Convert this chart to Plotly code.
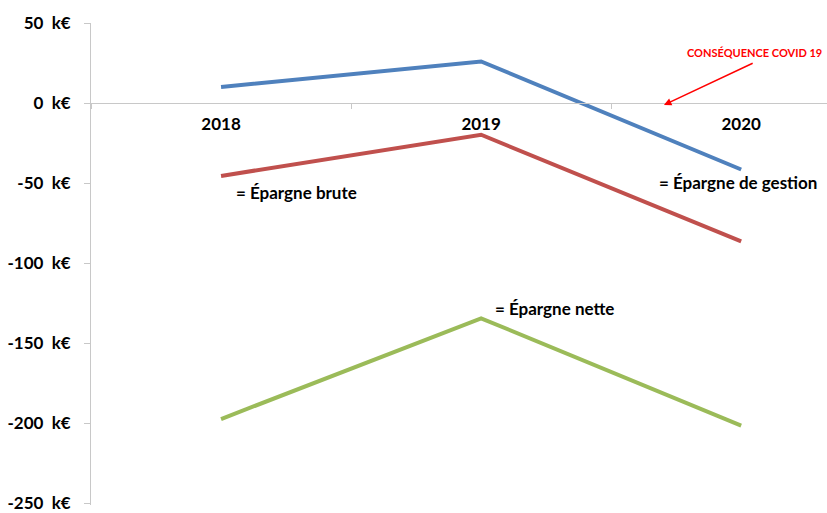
import plotly.graph_objects as go

years = ["2018", "2019", "2020"]
epargne_gestion = [10, 26, -41.5]
epargne_brute = [-45.5, -19.8, -86.4]
epargne_nette = [-197.3, -134.4, -201.4]

y_ticks = [50, 0, -50, -100, -150, -200, -250]
y_labels = [f"{v}\u00a0\u00a0k€" for v in y_ticks]

FONT = "Lato"

fig = go.Figure()
for vals, col in [(epargne_gestion, "#4f81bd"), (epargne_brute, "#c0504d"), (epargne_nette, "#9bbb59")]:
    fig.add_trace(go.Scatter(x=years, y=vals, mode="lines",
                             line=dict(color=col, width=4), showlegend=False,
                             hoverinfo="skip"))

fig.update_layout(
    width=827, height=513,
    margin=dict(l=91, r=0, t=23, b=4),
    paper_bgcolor="white", plot_bgcolor="white",
    font=dict(family=FONT, color="#000000"),
    xaxis=dict(type="category", range=[-0.5, 2.33], anchor="free",
               position=251/301, showline=True, linecolor="#c8c8c8", linewidth=1,
               ticks="outside", tickson="boundaries", ticklen=5, tickcolor="#c8c8c8",
               showgrid=False, zeroline=False,
               tickfont=dict(family=FONT, size=17, color="#000000", weight="bold"),
               ticklabelstandoff=6),
    yaxis=dict(range=[-251, 50], tickvals=y_ticks, ticktext=y_labels,
               showline=True, linecolor="#c8c8c8", linewidth=1,
               ticks="outside", ticklen=6, tickcolor="#c8c8c8",
               showgrid=False, zeroline=False, ticklabeloverflow="allow",
               tickfont=dict(family=FONT, size=17, color="#000000", weight="bold"),
               ticklabelstandoff=10),
)

ann_font = dict(family=FONT, size=17, color="#000000", weight="bold")
fig.add_annotation(x=0.05, y=-55.6, xref="x", yref="y", text="= Épargne brute",
                   showarrow=False, xanchor="left", yanchor="middle", font=ann_font)
fig.add_annotation(x=1.677, y=-49.4, xref="x", yref="y", text="= Épargne de gestion",
                   showarrow=False, xanchor="left", yanchor="middle", font=ann_font)
fig.add_annotation(x=1.045, y=-128.4, xref="x", yref="y", text="= Épargne nette",
                   showarrow=False, xanchor="left", yanchor="middle", font=ann_font)
fig.add_annotation(x=2.05, y=31.5, xref="x", yref="y", text="CONSÉQUENCE COVID 19",
                   showarrow=False, xanchor="center", yanchor="middle",
                   font=dict(family=FONT, size=11, color="#ff0000", weight="bold"))
fig.add_annotation(x=1.703, y=-1.2, ax=2.05, ay=25.3, xref="x", yref="y",
                   axref="x", ayref="y", text="", showarrow=True,
                   arrowhead=2, arrowsize=1, arrowwidth=1.5, arrowcolor="#ff0000")

fig.write_html("out.html")
